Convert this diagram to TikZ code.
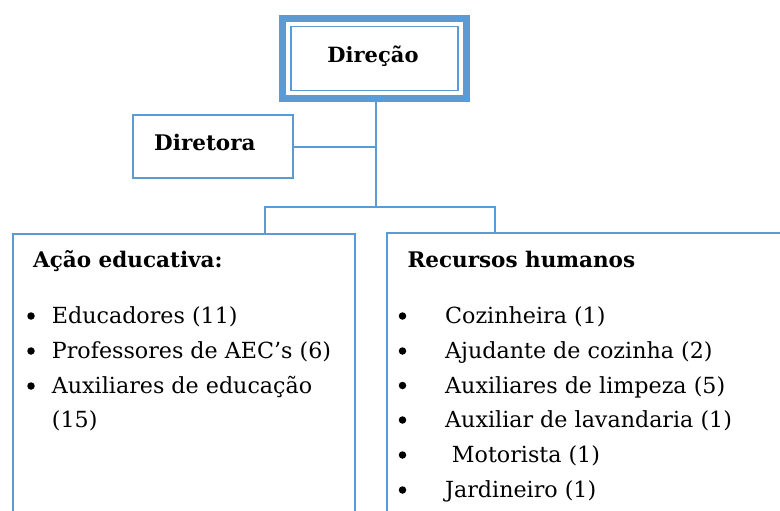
\documentclass[tikz,border=0pt]{standalone}
\usepackage{fontspec}
\setmainfont{DejaVu Serif}
\definecolor{lineblue}{RGB}{91,155,213}
\begin{document}
\begin{tikzpicture}[x=1pt,y=-1pt,
  box/.style={draw=lineblue,line width=1.8pt,inner sep=0pt,fill=white},
  lbl/.style={font=\fontsize{21.5}{24}\selectfont\bfseries,anchor=base west,inner sep=0pt},
  item/.style={font=\fontsize{22.2}{24}\selectfont,anchor=base west,inner sep=0pt},
  bul/.style={circle,fill=black,inner sep=0pt,minimum size=7.5pt},
  conn/.style={draw=lineblue,line width=1.8pt}]
\useasboundingbox (0,0) rectangle (780,511);
\clip (0,0) rectangle (780,511);
% Direction box (double frame)
\node[draw=lineblue,line width=7pt,minimum width=184pt,minimum height=80pt,inner sep=0pt] (dir) at (374.5,58.5) {};
\node[draw=lineblue,line width=1.6pt,minimum width=167pt,minimum height=64pt,inner sep=0pt] (dirin) at (374.5,58.5) {};
\node[font=\fontsize{21}{24}\selectfont\bfseries,inner sep=0pt,anchor=base] (dirt) at (373,63) {Direção};
% Diretora box
\node[box,minimum width=160pt,minimum height=63pt] (dra) at (213,146.7) {};
\node[lbl] (drat) at (154,150) {Diretora};
% Branch coordinates
\coordinate (j0) at (376,102);
\coordinate (j1) at (376,146.7);
\coordinate (j2) at (376,206.7);
\coordinate (jl) at (265,206.7);
\coordinate (jr) at (495,206.7);
% Lower boxes
\node[box,minimum width=342.6pt,minimum height=320pt,anchor=north west] (ae) at (11.7,233.3) {};
\node[box,minimum width=420pt,minimum height=320pt,anchor=north west] (rh) at (385.7,231.7) {};
% Connectors
\draw[conn] (dir.south -| j0) -- (j2);
\draw[conn] (dra.east) -- (j1);
\draw[conn] (jl |- ae.north) -- (jl) -- (jr) -- (jr |- rh.north);
% Left texts
\node[lbl] (aet) at (33,267) {Ação educativa:};
\node[bul] (b1) at (31,316) {};
\node[item] (i1) at (51.7,323.5) {Educadores (11)};
\node[bul] (b2) at (31,351) {};
\node[item] (i2) at (51.7,358.5) {Professores de AEC’s (6)};
\node[bul] (b3) at (31,386) {};
\node[item] (i3) at (51.7,393.5) {Auxiliares de educação};
\node[item] (i3b) at (51.7,427.5) {(15)};
% Right texts
\node[lbl] (rht) at (407.3,267) {Recursos humanos};
\node[bul] (c1) at (402.5,316) {};
\node[item] (k1) at (445,323.5) {Cozinheira (1)};
\node[bul] (c2) at (402.5,351) {};
\node[item] (k2) at (445,358.5) {Ajudante de cozinha (2)};
\node[bul] (c3) at (402.5,385.5) {};
\node[item] (k3) at (445,393) {Auxiliares de limpeza (5)};
\node[bul] (c4) at (402.5,420) {};
\node[item] (k4) at (445,427.5) {Auxiliar de lavandaria (1)};
\node[bul] (c5) at (402.5,455) {};
\node[item] (k5) at (451.7,462.5) {Motorista (1)};
\node[bul] (c6) at (402.5,490) {};
\node[item] (k6) at (445,497.5) {Jardineiro (1)};
\end{tikzpicture}
\end{document}
